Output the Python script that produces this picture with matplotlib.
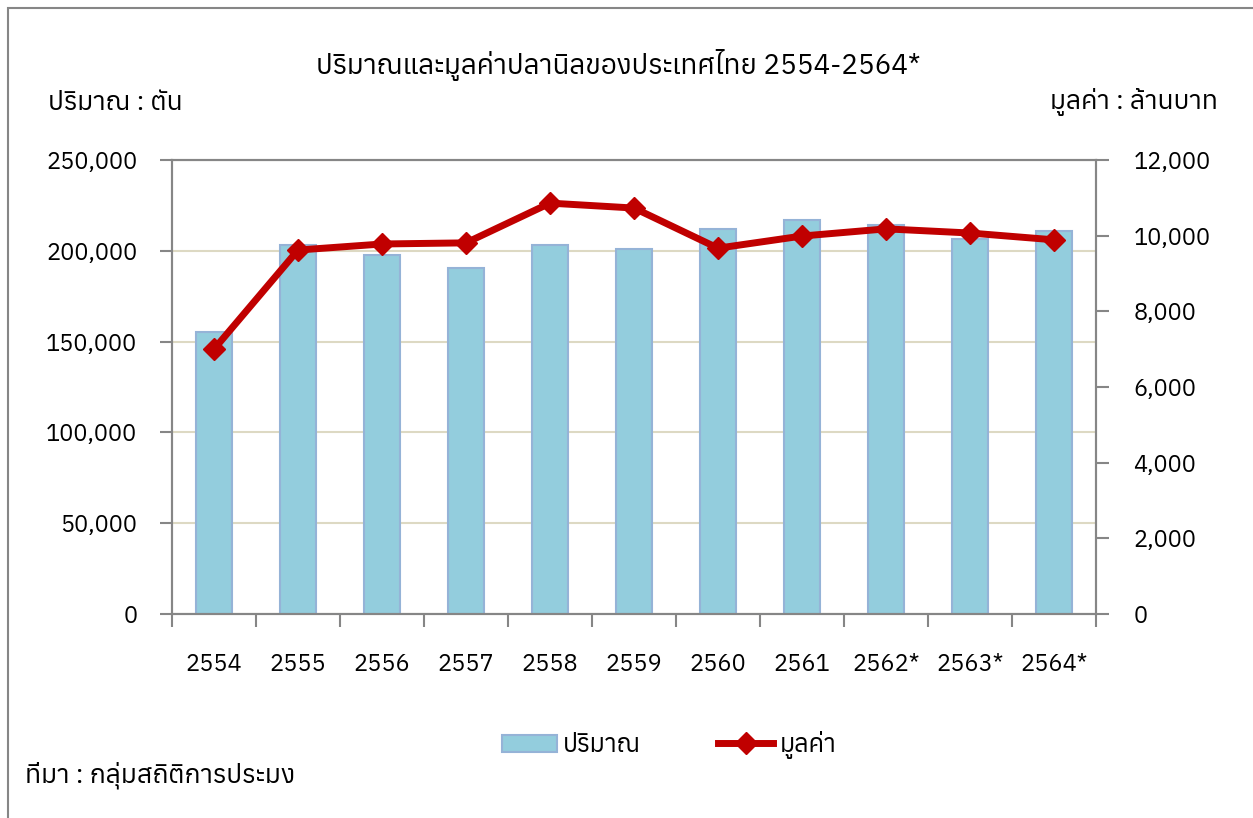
import matplotlib
matplotlib.use("Agg")
import matplotlib.pyplot as plt
from matplotlib import font_manager
from matplotlib.ft2font import FT2Font
from matplotlib.ticker import FuncFormatter, MultipleLocator, FixedLocator
import numpy as np

years = ["2554", "2555", "2556", "2557", "2558", "2559", "2560", "2561", "2562*", "2563*", "2564*"]
volume = [155500, 203200, 197700, 190500, 203200, 201000, 212000, 217000, 214000, 206500, 211000]
value = [7000, 9620, 9780, 9810, 10860, 10730, 9670, 9990, 10180, 10070, 9890]

# find a font that has Thai glyphs
thai_fonts = []
for f in font_manager.fontManager.ttflist:
    try:
        if 0x0E01 in FT2Font(f.fname).get_charmap():
            thai_fonts.append(f.name)
    except Exception:
        pass
families = sorted(set(thai_fonts)) + ["DejaVu Sans"]
plt.rcParams["font.family"] = families

fig = plt.figure(figsize=(12.53, 8.18), dpi=100)
ax = fig.add_axes([172 / 1253, 1 - 614 / 818, (1096 - 172) / 1253, (614 - 160) / 818])
ax2 = ax.twinx()

x = np.arange(len(years))
bars = ax.bar(x, volume, width=0.42, color="#93CDDD", edgecolor="#95B3D7", linewidth=1.5,
              label="ปริมาณ", zorder=2)
line, = ax2.plot(x, value, color="#C00000", linewidth=5, marker="D", markersize=11,
                 label="มูลค่า", solid_joinstyle="round", zorder=3)

ax.set_xlim(-0.5, len(years) - 0.5)
ax.set_ylim(0, 250000)
ax2.set_ylim(0, 12000)
ax.yaxis.set_major_locator(MultipleLocator(50000))
ax2.yaxis.set_major_locator(MultipleLocator(2000))
fmt = FuncFormatter(lambda v, p: f"{int(v):,}")
ax.yaxis.set_major_formatter(fmt)
ax2.yaxis.set_major_formatter(fmt)
ax.grid(axis="y", color="#DDD9C3", linewidth=1.5, zorder=0)
ax.set_axisbelow(True)

ax.set_xticks(x)
ax.set_xticklabels(years)
ax.xaxis.set_minor_locator(FixedLocator(np.arange(-0.5, len(years), 1.0)))
ax.tick_params(axis="x", which="major", length=0, pad=28, labelsize=17)
ax.tick_params(axis="x", which="minor", length=9, color="#868686", width=1.5, direction="out")
ax.tick_params(axis="y", length=9, color="#868686", width=1.5, labelsize=17, pad=16)
ax2.tick_params(axis="y", length=9, color="#868686", width=1.5, labelsize=17, pad=18)

for a in (ax, ax2):
    for s in a.spines.values():
        s.set_color("#868686")
        s.set_linewidth(1.5)

fig.text(618 / 1253, 1 - 65 / 818, "ปริมาณและมูลค่าปลานิลของประเทศไทย 2554-2564*",
         ha="center", va="center", fontsize=20)
fig.text(48 / 1253, 1 - 102 / 818, "ปริมาณ : ตัน", ha="left", va="center", fontsize=19)
fig.text(1218 / 1253, 1 - 102 / 818, "มูลค่า : ล้านบาท", ha="right", va="center", fontsize=19)
fig.text(25 / 1253, 1 - 775 / 818, "ที่มา : กลุ่มสถิติการประมง", ha="left", va="center", fontsize=19)

fig.legend([bars, line], ["ปริมาณ", "มูลค่า"], loc="center", bbox_to_anchor=(669 / 1253, 1 - 745 / 818),
           ncol=2, frameon=False, fontsize=18, handlelength=2.2, columnspacing=3.1, handletextpad=0.25)

# outer frame
fig.patches.append(plt.Rectangle((8 / 1253, -0.01), 1.1, 1 - 8 / 818 + 0.01, transform=fig.transFigure,
                                 fill=False, edgecolor="#868686", linewidth=1.5))

fig.savefig("out.png", dpi=100)
